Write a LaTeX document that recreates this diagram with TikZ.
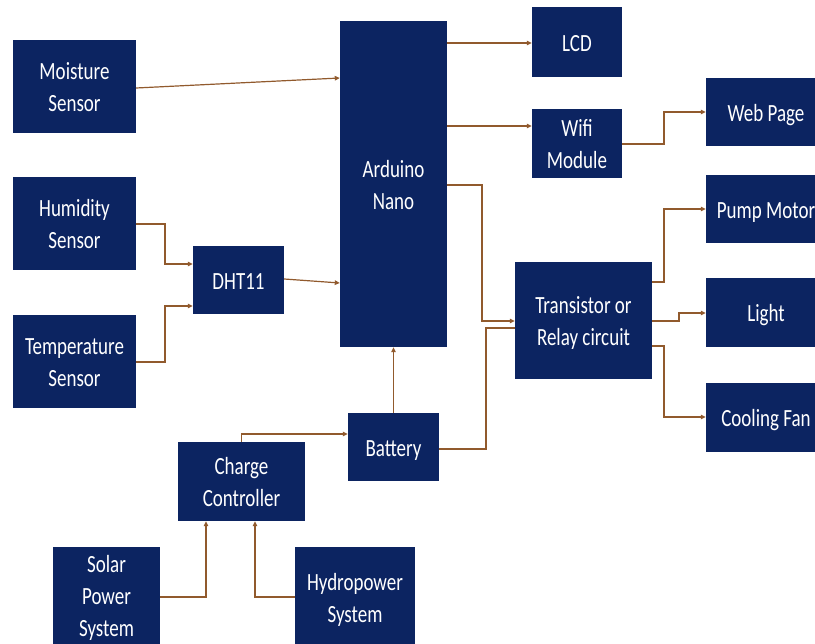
\documentclass[tikz,border=0pt]{standalone}
\usepackage{fontspec}
\setmainfont{Carlito}
\usetikzlibrary{arrows.meta}
\definecolor{navy}{RGB}{12,36,97}
\definecolor{wire}{RGB}{145,90,45}
\newcommand{\boxtxt}[2][-3pt]{\raisebox{#1}[\height][\depth]{\scalebox{1}[1.3]{\begin{tabular}{@{}c@{}}#2\end{tabular}}}}
\begin{document}
\begin{tikzpicture}[x=1pt,y=-1pt,
  box/.style={fill=navy,draw=none,text=white,inner sep=0pt,
    font=\fontsize{19}{24.6}\selectfont},
  wirel/.style={draw=wire,line width=1.2pt},
  arr/.style={wirel,-{Triangle[length=5pt,width=4.5pt]}}]
\useasboundingbox (0,0) rectangle (815,644);
\clip (0,0) rectangle (815,644);
\fill[white] (0,0) rectangle (815,644);
% nodes
\node[box,minimum width=123pt,minimum height=93pt] (moist) at (74.5,86.5) {\boxtxt{Moisture\\Sensor}};
\node[box,minimum width=123pt,minimum height=93pt] (hum) at (74.5,223.5) {\boxtxt{Humidity\\Sensor}};
\node[box,minimum width=123pt,minimum height=93pt] (temp) at (74.5,361.5) {\boxtxt{Temperature\\Sensor}};
\node[box,minimum width=91pt,minimum height=68pt] (dht) at (238.5,280) {\boxtxt{DHT11}};
\node[box,minimum width=107pt,minimum height=326pt] (ard) at (393.5,184) {\boxtxt{Arduino\\Nano}};
\node[box,minimum width=90pt,minimum height=70pt] (lcd) at (577,42) {\boxtxt{LCD}};
\node[box,minimum width=90pt,minimum height=69pt] (wifi) at (577,143.5) {\boxtxt{Wifi\\Module}};
\node[box,minimum width=120pt,minimum height=68pt] (web) at (766,112) {\boxtxt{Web Page}};
\node[box,minimum width=120pt,minimum height=68pt] (pump) at (766,209) {\boxtxt{Pump Motor}};
\node[box,minimum width=137pt,minimum height=117pt] (trans) at (583.5,320.5) {\boxtxt{Transistor or\\Relay circuit}};
\node[box,minimum width=120pt,minimum height=69pt] (light) at (766,312.5) {\boxtxt{Light}};
\node[box,minimum width=120pt,minimum height=69pt] (fan) at (766,417.5) {\boxtxt{Cooling Fan}};
\node[box,minimum width=91pt,minimum height=68pt] (batt) at (393.5,447) {\boxtxt{Battery}};
\node[box,minimum width=127pt,minimum height=79pt] (charge) at (241.5,481.5) {\boxtxt{Charge\\Controller}};
\node[box,minimum width=107pt,minimum height=104pt] (solar) at (106.5,599) {\boxtxt[1pt]{Solar\\Power\\System}};
\node[box,minimum width=120pt,minimum height=104pt] (hydro) at (355,599) {\boxtxt[-1pt]{Hydropower\\System}};
% connectors
\draw[arr] (moist.east |- 0,88) -- (ard.west |- 0,78);
\draw[arr] (hum.east |- 0,224) -| (165,264) -- (dht.west |- 0,264);
\draw[arr] (temp.east |- 0,362) -| (165,306) -- (dht.west |- 0,306);
\draw[arr] (dht.east |- 0,279) -- (ard.west |- 0,283);
\draw[arr] (ard.east |- 0,43) -- (lcd.west |- 0,43);
\draw[arr] (ard.east |- 0,126) -- (wifi.west |- 0,126);
\draw[arr] (ard.east |- 0,185) -| (482,321) -- (trans.west |- 0,321);
\draw[wirel] (batt.east |- 0,449) -| (486,328) -- (trans.west |- 0,328);
\draw[arr] (wifi.east |- 0,144) -| (664,112) -- (web.west);
\draw[arr] (trans.east |- 0,282) -| (664,209) -- (pump.west);
\draw[arr] (trans.east |- 0,321) -| (679,313) -- (light.west |- 0,313);
\draw[arr] (trans.east |- 0,346) -| (664,417) -- (fan.west |- 0,417);
\draw[arr] (batt.north) -- (ard.south);
\draw[arr] (charge.north) |- (batt.west |- 0,434);
\draw[arr] (solar.east |- 0,597) -| (charge.south -| 206,0);
\draw[arr] (hydro.west |- 0,597) -| (charge.south -| 255,0);
\end{tikzpicture}
\end{document}
